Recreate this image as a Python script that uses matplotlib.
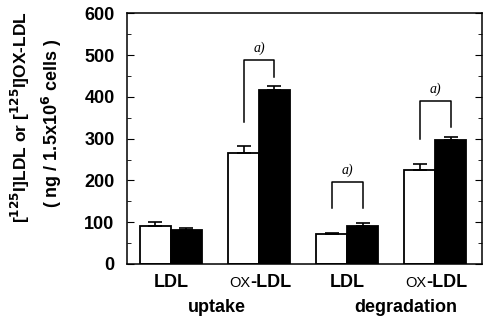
import matplotlib
matplotlib.use("Agg")
import matplotlib.pyplot as plt
import numpy as np
from matplotlib.ticker import MultipleLocator

plt.rcParams['font.family'] = ['Liberation Sans', 'DejaVu Sans']
plt.rcParams['mathtext.default'] = 'bf'

# data
groups      = ["LDL", "ox-LDL", "LDL", "ox-LDL"]
white_vals  = [90, 265, 71, 226]
white_err   = [10, 18, 3, 13]
black_vals  = [82, 416, 91, 296]
black_err   = [5, 10, 7, 7]
# significance brackets: group, top, left leg end, right leg end
brk_group   = [1, 2, 3]
brk_top     = [488, 197, 390]
brk_left    = [340, 133, 300]
brk_right   = [447, 135, 329]

x = np.arange(len(groups))
w = 0.35

fig = plt.figure(figsize=(4.83, 3.2), dpi=100)
ax = fig.add_axes([0.263, 0.175, 0.735, 0.783])

ax.bar(x - w/2, white_vals, w, color='white', edgecolor='black', linewidth=1.3,
       yerr=[np.zeros(4), white_err], capsize=5, error_kw=dict(elinewidth=1.2, capthick=1.2))
ax.bar(x + w/2, black_vals, w, color='black', edgecolor='black', linewidth=1.3,
       yerr=[np.zeros(4), black_err], capsize=5, error_kw=dict(elinewidth=1.2, capthick=1.2))

for g, t, l, r in zip(brk_group, brk_top, brk_left, brk_right):
    ax.plot([g - w/2, g - w/2, g + w/2, g + w/2], [l, t, t, r], color='black', lw=1.1)
    ax.text(g, t + 12, "a)", ha='center', va='bottom', fontsize=10,
            family='Liberation Serif', style='italic')

ax.set_xlim(-0.498, 3.53)
ax.set_ylim(0, 600)
ax.yaxis.set_major_locator(MultipleLocator(100))
ax.yaxis.set_minor_locator(MultipleLocator(50))
ax.tick_params(axis='y', which='both', direction='in', right=True, labelsize=13, pad=9)
ax.tick_params(axis='y', which='major', length=5)
ax.tick_params(axis='y', which='minor', length=3)
for lab in ax.get_yticklabels():
    lab.set_fontweight('bold')
ax.set_xticks([])
for s in ax.spines.values():
    s.set_linewidth(1.1)

# x group labels
for i, g in enumerate(groups):
    if g == "ox-LDL":
        ax.text(i - 0.1, -45, "OX", ha='right', va='center', fontsize=10.5)
        ax.text(i - 0.1, -45, "-LDL", ha='left', va='center', fontsize=13, fontweight='bold')
    else:
        ax.text(i, -45, g, ha='center', va='center', fontsize=13, fontweight='bold')
for t in ax.texts:
    t.set_clip_on(False)

ax.text(0.52, -105, "uptake", ha='center', va='center', fontsize=13, fontweight='bold', clip_on=False)
ax.text(2.66, -105, "degradation", ha='center', va='center', fontsize=13, fontweight='bold', clip_on=False)

fig.text(0.043, 0.635, r"[$^{125}$I]LDL or [$^{125}$I]OX-LDL", rotation=90,
         ha='center', va='center', fontsize=12.5, fontweight='bold')
fig.text(0.108, 0.615, r"( ng / 1.5x10$^{6}$ cells )", rotation=90,
         ha='center', va='center', fontsize=13, fontweight='bold')

fig.savefig("out.png", dpi=100)
